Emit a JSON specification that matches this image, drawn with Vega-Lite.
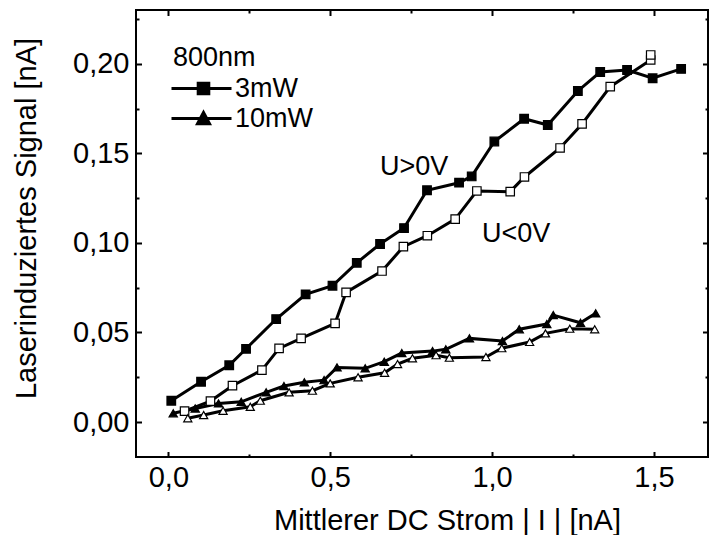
{
  "$schema": "https://vega.github.io/schema/vega-lite/v6.json",
  "width": 572,
  "height": 447,
  "autosize": {"type": "none"},
  "padding": {"left": 136, "top": 10, "right": 2, "bottom": 78},
  "background": "white",
  "config": {
    "font": "Liberation Sans",
    "view": {"stroke": "black", "strokeWidth": 2},
    "axis": {
      "grid": false, "domain": false,
      "labelFont": "Liberation Sans", "titleFont": "Liberation Sans",
      "labelColor": "black", "titleColor": "black", "tickColor": "black",
      "tickWidth": 2, "labelFontSize": 29, "titleFontSize": 29, "titleFontWeight": "normal",
      "labelFlush": false, "labelOverlap": false
    }
  },
  "datasets": {
    "pts": [
      {"s":"A","power":"3mW","dir":"U>0V","x":0.009,"y":0.0119},
      {"s":"A","power":"3mW","dir":"U>0V","x":0.101,"y":0.0225},
      {"s":"A","power":"3mW","dir":"U>0V","x":0.188,"y":0.0317},
      {"s":"A","power":"3mW","dir":"U>0V","x":0.240,"y":0.0409},
      {"s":"A","power":"3mW","dir":"U>0V","x":0.333,"y":0.0575},
      {"s":"A","power":"3mW","dir":"U>0V","x":0.424,"y":0.0713},
      {"s":"A","power":"3mW","dir":"U>0V","x":0.507,"y":0.0761},
      {"s":"A","power":"3mW","dir":"U>0V","x":0.582,"y":0.0889},
      {"s":"A","power":"3mW","dir":"U>0V","x":0.654,"y":0.0994},
      {"s":"A","power":"3mW","dir":"U>0V","x":0.728,"y":0.1083},
      {"s":"A","power":"3mW","dir":"U>0V","x":0.799,"y":0.1294},
      {"s":"A","power":"3mW","dir":"U>0V","x":0.898,"y":0.1336},
      {"s":"A","power":"3mW","dir":"U>0V","x":0.937,"y":0.1371},
      {"s":"A","power":"3mW","dir":"U>0V","x":1.007,"y":0.1566},
      {"s":"A","power":"3mW","dir":"U>0V","x":1.099,"y":0.1693},
      {"s":"A","power":"3mW","dir":"U>0V","x":1.172,"y":0.1658},
      {"s":"A","power":"3mW","dir":"U>0V","x":1.265,"y":0.1848},
      {"s":"A","power":"3mW","dir":"U>0V","x":1.334,"y":0.1954},
      {"s":"A","power":"3mW","dir":"U>0V","x":1.417,"y":0.1965},
      {"s":"A","power":"3mW","dir":"U>0V","x":1.496,"y":0.1919},
      {"s":"A","power":"3mW","dir":"U>0V","x":1.584,"y":0.1971},
      {"s":"B","power":"3mW","dir":"U<0V","x":0.050,"y":0.0061},
      {"s":"B","power":"3mW","dir":"U<0V","x":0.130,"y":0.0117},
      {"s":"B","power":"3mW","dir":"U<0V","x":0.198,"y":0.0203},
      {"s":"B","power":"3mW","dir":"U<0V","x":0.289,"y":0.0290},
      {"s":"B","power":"3mW","dir":"U<0V","x":0.342,"y":0.0411},
      {"s":"B","power":"3mW","dir":"U<0V","x":0.410,"y":0.0467},
      {"s":"B","power":"3mW","dir":"U<0V","x":0.515,"y":0.0551},
      {"s":"B","power":"3mW","dir":"U<0V","x":0.549,"y":0.0724},
      {"s":"B","power":"3mW","dir":"U<0V","x":0.660,"y":0.0843},
      {"s":"B","power":"3mW","dir":"U<0V","x":0.726,"y":0.0979},
      {"s":"B","power":"3mW","dir":"U<0V","x":0.800,"y":0.1040},
      {"s":"B","power":"3mW","dir":"U<0V","x":0.886,"y":0.1133},
      {"s":"B","power":"3mW","dir":"U<0V","x":0.953,"y":0.1290},
      {"s":"B","power":"3mW","dir":"U<0V","x":1.056,"y":0.1286},
      {"s":"B","power":"3mW","dir":"U<0V","x":1.100,"y":0.1368},
      {"s":"B","power":"3mW","dir":"U<0V","x":1.210,"y":0.1530},
      {"s":"B","power":"3mW","dir":"U<0V","x":1.278,"y":0.1664},
      {"s":"B","power":"3mW","dir":"U<0V","x":1.365,"y":0.1872},
      {"s":"B","power":"3mW","dir":"U<0V","x":1.490,"y":0.2021},
      {"s":"B","power":"3mW","dir":"U<0V","x":1.490,"y":0.2049},
      {"s":"C","power":"10mW","dir":"U>0V","x":0.015,"y":0.0049},
      {"s":"C","power":"10mW","dir":"U>0V","x":0.083,"y":0.0076},
      {"s":"C","power":"10mW","dir":"U>0V","x":0.155,"y":0.0104},
      {"s":"C","power":"10mW","dir":"U>0V","x":0.225,"y":0.0113},
      {"s":"C","power":"10mW","dir":"U>0V","x":0.302,"y":0.0166},
      {"s":"C","power":"10mW","dir":"U>0V","x":0.357,"y":0.0201},
      {"s":"C","power":"10mW","dir":"U>0V","x":0.420,"y":0.0222},
      {"s":"C","power":"10mW","dir":"U>0V","x":0.481,"y":0.0234},
      {"s":"C","power":"10mW","dir":"U>0V","x":0.521,"y":0.0305},
      {"s":"C","power":"10mW","dir":"U>0V","x":0.608,"y":0.0300},
      {"s":"C","power":"10mW","dir":"U>0V","x":0.667,"y":0.0337},
      {"s":"C","power":"10mW","dir":"U>0V","x":0.721,"y":0.0385},
      {"s":"C","power":"10mW","dir":"U>0V","x":0.816,"y":0.0396},
      {"s":"C","power":"10mW","dir":"U>0V","x":0.857,"y":0.0406},
      {"s":"C","power":"10mW","dir":"U>0V","x":0.930,"y":0.0467},
      {"s":"C","power":"10mW","dir":"U>0V","x":1.032,"y":0.0452},
      {"s":"C","power":"10mW","dir":"U>0V","x":1.084,"y":0.0518},
      {"s":"C","power":"10mW","dir":"U>0V","x":1.169,"y":0.0547},
      {"s":"C","power":"10mW","dir":"U>0V","x":1.189,"y":0.0597},
      {"s":"C","power":"10mW","dir":"U>0V","x":1.273,"y":0.0554},
      {"s":"C","power":"10mW","dir":"U>0V","x":1.320,"y":0.0607},
      {"s":"D","power":"10mW","dir":"U<0V","x":0.060,"y":0.0021},
      {"s":"D","power":"10mW","dir":"U<0V","x":0.109,"y":0.0039},
      {"s":"D","power":"10mW","dir":"U<0V","x":0.169,"y":0.0063},
      {"s":"D","power":"10mW","dir":"U<0V","x":0.253,"y":0.0085},
      {"s":"D","power":"10mW","dir":"U<0V","x":0.284,"y":0.0119},
      {"s":"D","power":"10mW","dir":"U<0V","x":0.373,"y":0.0166},
      {"s":"D","power":"10mW","dir":"U<0V","x":0.445,"y":0.0175},
      {"s":"D","power":"10mW","dir":"U<0V","x":0.500,"y":0.0216},
      {"s":"D","power":"10mW","dir":"U<0V","x":0.586,"y":0.0250},
      {"s":"D","power":"10mW","dir":"U<0V","x":0.668,"y":0.0275},
      {"s":"D","power":"10mW","dir":"U<0V","x":0.708,"y":0.0324},
      {"s":"D","power":"10mW","dir":"U<0V","x":0.754,"y":0.0356},
      {"s":"D","power":"10mW","dir":"U<0V","x":0.827,"y":0.0373},
      {"s":"D","power":"10mW","dir":"U<0V","x":0.868,"y":0.0359},
      {"s":"D","power":"10mW","dir":"U<0V","x":0.981,"y":0.0363},
      {"s":"D","power":"10mW","dir":"U<0V","x":1.030,"y":0.0412},
      {"s":"D","power":"10mW","dir":"U<0V","x":1.116,"y":0.0447},
      {"s":"D","power":"10mW","dir":"U<0V","x":1.165,"y":0.0495},
      {"s":"D","power":"10mW","dir":"U<0V","x":1.240,"y":0.0521},
      {"s":"D","power":"10mW","dir":"U<0V","x":1.317,"y":0.0518}
    ],
    "ann": [
      {"label": "U>0V", "x": 0.759, "y": 0.1421},
      {"label": "U<0V", "x": 1.074, "y": 0.1049}
    ]
  },
  "resolve": {"axis": {"x": "independent", "y": "independent"}, "scale": {"shape": "independent"}},
  "layer": [
    {
      "data": {"name": "pts"},
      "mark": {"type": "line", "color": "black", "strokeWidth": 3},
      "encoding": {
        "x": {
          "field": "x", "type": "quantitative",
          "scale": {"domain": [-0.1, 1.667], "nice": false, "zero": false},
          "axis": {
            "orient": "bottom",
            "values": [0, 0.25, 0.5, 0.75, 1, 1.25, 1.5],
            "labelExpr": "abs(datum.value*2 - round(datum.value*2)) > 0.01 ? '' : replace(format(datum.value, '.1f'), '.', ',')",
            "tickSize": {"condition": {"test": "abs(datum.value*2 - round(datum.value*2)) > 0.01", "value": -3}, "value": -5.5},
            "labelPadding": 12,
            "title": "Mittlerer DC Strom | I | [nA]",
            "titleX": 311, "titleY": 72, "titleBaseline": "alphabetic", "titleAlign": "center", "titleAnchor": null
          }
        },
        "y": {
          "field": "y", "type": "quantitative",
          "scale": {"domain": [-0.0195, 0.23], "nice": false, "zero": false},
          "axis": {
            "orient": "left",
            "values": [0, 0.025, 0.05, 0.075, 0.1, 0.125, 0.15, 0.175, 0.2, 0.225],
            "labelExpr": "abs(datum.value*20 - round(datum.value*20)) > 0.01 ? '' : replace(format(datum.value, '.2f'), '.', ',')",
            "tickSize": {"condition": {"test": "abs(datum.value*20 - round(datum.value*20)) > 0.01", "value": -3}, "value": -5.5},
            "labelPadding": 12.5,
            "title": "Laserinduziertes Signal [nA]",
            "titleX": -100.5, "titleY": 208, "titleAngle": 270, "titleBaseline": "alphabetic", "titleAlign": "center"
          }
        },
        "detail": {"field": "s"}
      }
    },
    {
      "data": {"name": "pts"},
      "mark": {"type": "point", "filled": true, "stroke": "black", "strokeWidth": 1.2, "opacity": 1},
      "encoding": {
        "x": {
          "field": "x", "type": "quantitative",
          "axis": {
            "orient": "top", "labels": false, "title": null,
            "values": [0, 0.25, 0.5, 0.75, 1, 1.25, 1.5],
            "tickSize": {"condition": {"test": "abs(datum.value*2 - round(datum.value*2)) > 0.01", "value": -3}, "value": -5.5}
          }
        },
        "y": {
          "field": "y", "type": "quantitative",
          "axis": {
            "orient": "right", "labels": false, "title": null,
            "values": [0, 0.025, 0.05, 0.075, 0.1, 0.125, 0.15, 0.175, 0.2, 0.225],
            "tickSize": {"condition": {"test": "abs(datum.value*20 - round(datum.value*20)) > 0.01", "value": -3}, "value": -5.5}
          }
        },
        "shape": {
          "field": "power", "type": "nominal",
          "scale": {"domain": ["3mW", "10mW"], "range": ["square", "triangle-up"]},
          "legend": null
        },
        "fill": {
          "field": "dir", "type": "nominal",
          "scale": {"domain": ["U>0V", "U<0V"], "range": ["black", "white"]},
          "legend": null
        },
        "size": {
          "field": "s", "type": "nominal",
          "scale": {"domain": ["A", "B", "C", "D"], "range": [74, 66, 120, 112]},
          "legend": null
        }
      }
    },
    {
      "data": {"name": "pts"},
      "mark": {"type": "point", "filled": true, "color": "black", "size": 0, "opacity": 1},
      "encoding": {
        "x": {"field": "x", "type": "quantitative", "axis": null},
        "y": {"field": "y", "type": "quantitative", "axis": null},
        "shape": {
          "field": "power", "type": "nominal",
          "scale": {"domain": ["3mW", "10mW"], "range": ["M-1.5,-0.14H4.5V0.14H-1.5ZM1.02,-0.68H2.38V0.68H1.02Z", "M-1.5,-0.14H4.5V0.14H-1.5ZM1.7,-0.92L2.55,0.67H0.85Z"]},
          "legend": {
            "title": "800nm", "orient": "none", "legendX": 37, "legendY": 35, "padding": 0,
            "titleFont": "Liberation Sans", "titleFontSize": 27, "titleFontWeight": "normal", "titleColor": "black", "titlePadding": 3,
            "labelFont": "Liberation Sans", "labelFontSize": 27, "labelColor": "black", "labelOffset": 35,
            "symbolSize": 400, "rowPadding": 2,
            "symbolFillColor": "black", "symbolOpacity": 1
          }
        }
      }
    },
    {
      "data": {"name": "ann"},
      "mark": {"type": "text", "font": "Liberation Sans", "fontSize": 27, "color": "black", "align": "center", "baseline": "middle"},
      "encoding": {
        "x": {"field": "x", "type": "quantitative", "axis": null},
        "y": {"field": "y", "type": "quantitative", "axis": null},
        "text": {"field": "label"}
      }
    }
  ]
}
